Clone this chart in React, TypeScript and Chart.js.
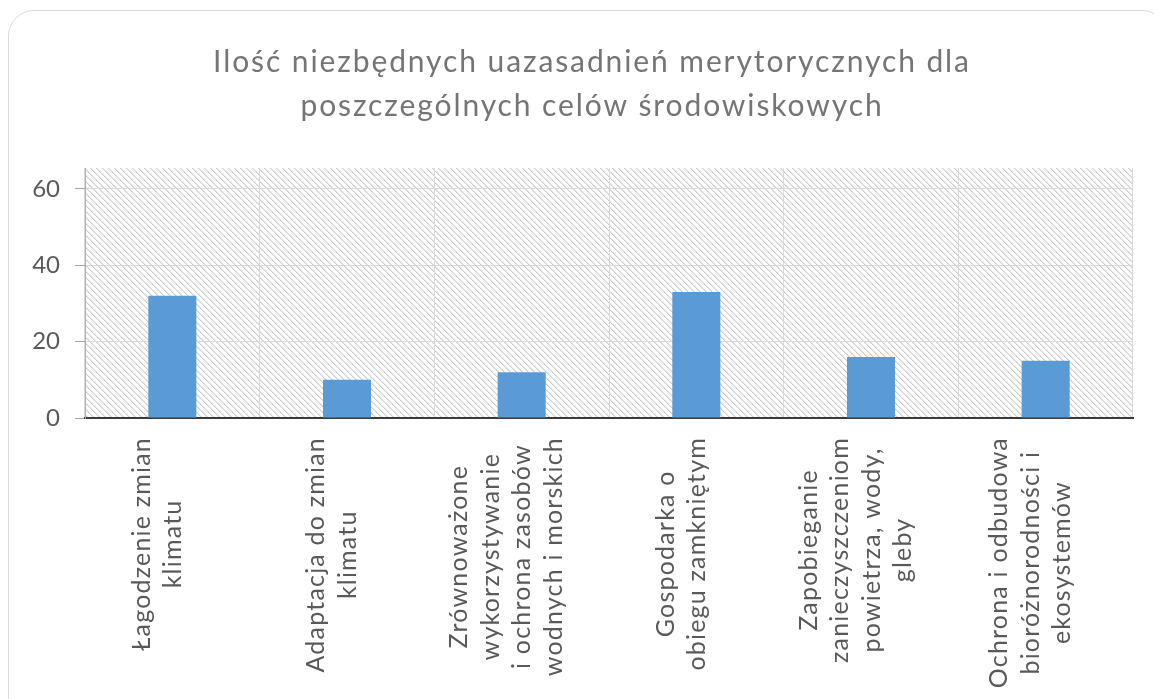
import React, { useEffect, useRef } from "react";
import { Chart, registerables } from "chart.js";

Chart.register(...registerables);

const titleLines = [
  "Ilość niezbędnych uazasadnień merytorycznych dla",
  "poszczególnych celów środowiskowych",
];

const categories: string[][] = [
  ["Łagodzenie zmian", "klimatu"],
  ["Adaptacja do zmian", "klimatu"],
  ["Zrównoważone", "wykorzystywanie", "i ochrona zasobów", "wodnych i morskich"],
  ["Gospodarka o", "obiegu zamkniętym"],
  ["Zapobieganie", "zanieczyszczeniom", "powietrza, wody,", "gleby"],
  ["Ochrona i odbudowa", "bioróżnorodności i", "ekosystemów"],
];

const values = [32, 10, 12, 33, 16, 15];

const yTicks = [0, 20, 40, 60];
const yMax = 65.5;

const FONT = "Lato, 'Open Sans', sans-serif";

function makePattern(): CanvasPattern | string {
  const s = 6;
  const c = document.createElement("canvas");
  c.width = s;
  c.height = s;
  const g = c.getContext("2d");
  if (!g) return "#eeeeee";
  g.fillStyle = "#ffffff";
  g.fillRect(0, 0, s, s);
  for (let i = 0; i < s; i++) {
    g.fillStyle = "#cdcdcd";
    g.fillRect(i, i, 1, 1);
    g.fillStyle = "#e6e6e6";
    g.fillRect((i + 1) % s, i, 1, 1);
  }
  const p = g.createPattern(c, "repeat");
  return p || "#eeeeee";
}

export default function App() {
  const ref = useRef<HTMLCanvasElement | null>(null);

  useEffect(() => {
    if (!ref.current) return;
    const pattern = makePattern();

    const hatch = {
      id: "hatch",
      beforeDraw(chart: any) {
        const { ctx, chartArea } = chart;
        const { left, top, right, bottom } = chartArea;
        ctx.save();
        ctx.fillStyle = pattern;
        ctx.fillRect(left, top, right - left, bottom - top);
        ctx.restore();
      },
    };

    const texts = {
      id: "texts",
      afterDraw(chart: any) {
        const { ctx } = chart;
        const xs = chart.scales.x;
        ctx.save();
        // title
        ctx.fillStyle = "#757575";
        ctx.font = `30px ${FONT}`;
        ctx.letterSpacing = "1.9px";
        ctx.textAlign = "center";
        ctx.textBaseline = "middle";
        titleLines.forEach((t, j) => {
          ctx.fillText(t, 592, 62 + j * 44);
        });
        // category labels, rotated
        ctx.fillStyle = "#595959";
        ctx.font = `25px ${FONT}`;
        ctx.letterSpacing = "1.2px";
        const lh = 31.5;
        categories.forEach((lines, i) => {
          const cx = xs.getPixelForValue(i) - 15;
          const maxW = Math.max(...lines.map((l) => ctx.measureText(l).width));
          ctx.save();
          ctx.translate(cx, xs.top + 19);
          ctx.rotate(-Math.PI / 2);
          lines.forEach((l, j) => {
            ctx.fillText(l, -maxW / 2, (j - (lines.length - 1) / 2) * lh);
          });
          ctx.restore();
        });
        ctx.restore();
      },
    };

    const chart = new Chart(ref.current, {
      type: "bar",
      data: {
        labels: categories.map((c) => c.join(" ")),
        datasets: [
          {
            data: values,
            backgroundColor: "#5B9BD5",
            barPercentage: 0.275,
            categoryPercentage: 1,
          },
        ],
      },
      options: {
        animation: false,
        responsive: false,
        maintainAspectRatio: false,
        layout: { padding: { left: 0, right: 21, top: 168, bottom: 0 } },
        plugins: {
          legend: { display: false },
          title: { display: false },
          tooltip: { enabled: false },
        },
        scales: {
          x: {
            grid: { offset: true, color: "#d9d9d9", drawTicks: false, lineWidth: 1 },
            border: { color: "#3a3a3a", width: 2 },
            ticks: { display: false },
            afterFit: (s: any) => {
              s.height = 281;
            },
          },
          y: {
            min: 0,
            max: yMax,
            afterBuildTicks: (s: any) => {
              s.ticks = yTicks.map((v) => ({ value: v }));
            },
            grid: {
              color: (c: any) => (c.tick && c.tick.value === 0 ? "rgba(0,0,0,0)" : "#d9d9d9"),
              tickColor: "#a6a6a6",
              tickLength: 10,
            },
            border: { color: "#b0b0b0", width: 1 },
            ticks: {
              font: { family: FONT, size: 24 },
              color: "#595959",
              padding: 15,
            },
            afterFit: (s: any) => {
              s.width = 85;
            },
          },
        },
      },
      plugins: [hatch, texts],
    });
    return () => chart.destroy();
  }, []);

  return (
    <div
      style={{
        position: "absolute",
        left: 0,
        top: 0,
        width: 1154,
        height: 699,
        overflow: "hidden",
        background: "#ffffff",
      }}
    >
      <div
        style={{
          position: "absolute",
          left: 8,
          top: 10,
          width: 1160,
          height: 720,
          border: "1.5px solid #dcdcdc",
          borderRadius: 26,
          boxSizing: "border-box",
        }}
      />
      <canvas
        ref={ref}
        width={1154}
        height={699}
        style={{ position: "absolute", left: 0, top: 0, width: 1154, height: 699 }}
      />
    </div>
  );
}
